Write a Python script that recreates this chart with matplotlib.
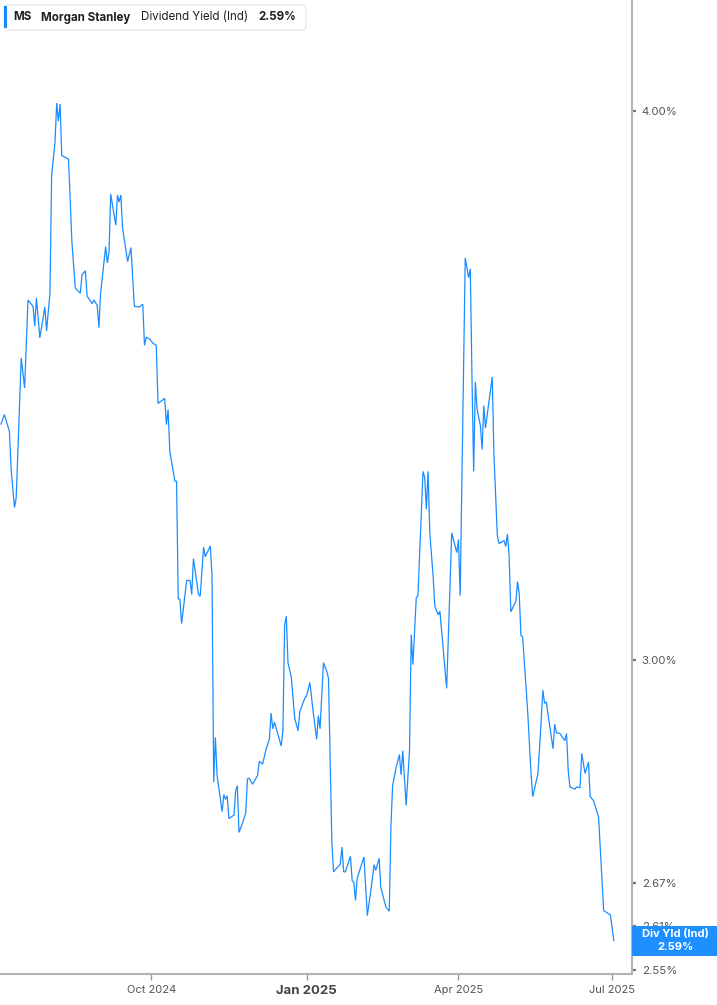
import matplotlib
matplotlib.use('Agg')
import matplotlib.pyplot as plt
import matplotlib.ticker as mticker
from matplotlib.patches import FancyBboxPatch, Rectangle
import pandas as pd

plt.rcParams['font.family'] = ['Inter', 'DejaVu Sans']

# ---------------- data ----------------
dates = [
    "2024-07-04", "2024-07-06", "2024-07-09", "2024-07-10", "2024-07-12", "2024-07-13",
    "2024-07-16", "2024-07-18", "2024-07-20", "2024-07-23", "2024-07-24", "2024-07-25",
    "2024-07-27", "2024-07-30", "2024-07-31", "2024-08-02", "2024-08-03", "2024-08-05",
    "2024-08-06", "2024-08-07", "2024-08-08", "2024-08-09", "2024-08-13", "2024-08-15",
    "2024-08-17", "2024-08-20", "2024-08-21", "2024-08-23", "2024-08-24", "2024-08-27",
    "2024-08-28", "2024-08-30", "2024-08-31", "2024-09-01", "2024-09-04", "2024-09-05",
    "2024-09-06", "2024-09-07", "2024-09-10", "2024-09-11", "2024-09-12", "2024-09-13",
    "2024-09-14", "2024-09-17", "2024-09-19", "2024-09-21", "2024-09-24", "2024-09-26",
    "2024-09-27", "2024-09-28", "2024-09-30", "2024-10-02", "2024-10-04", "2024-10-05",
    "2024-10-09", "2024-10-10", "2024-10-11", "2024-10-12", "2024-10-15", "2024-10-16",
    "2024-10-17", "2024-10-18", "2024-10-19", "2024-10-22", "2024-10-24", "2024-10-25",
    "2024-10-26", "2024-10-29", "2024-10-30", "2024-11-01", "2024-11-02", "2024-11-05",
    "2024-11-06", "2024-11-07", "2024-11-08", "2024-11-09", "2024-11-12", "2024-11-13",
    "2024-11-14", "2024-11-15", "2024-11-16", "2024-11-19", "2024-11-20", "2024-11-21",
    "2024-11-22", "2024-11-24", "2024-11-26", "2024-11-27", "2024-11-28", "2024-11-30",
    "2024-12-03", "2024-12-04", "2024-12-06", "2024-12-08", "2024-12-10", "2024-12-11",
    "2024-12-12", "2024-12-13", "2024-12-17", "2024-12-18", "2024-12-19", "2024-12-20",
    "2024-12-21", "2024-12-23", "2024-12-25", "2024-12-27", "2024-12-28", "2024-12-31",
    "2025-01-01", "2025-01-03", "2025-01-05", "2025-01-07", "2025-01-08", "2025-01-09",
    "2025-01-11", "2025-01-13", "2025-01-14", "2025-01-16", "2025-01-17", "2025-01-21",
    "2025-01-22", "2025-01-23", "2025-01-24", "2025-01-27", "2025-01-28", "2025-01-29",
    "2025-01-30", "2025-01-31", "2025-02-04", "2025-02-06", "2025-02-08", "2025-02-10",
    "2025-02-11", "2025-02-13", "2025-02-14", "2025-02-17", "2025-02-19", "2025-02-20",
    "2025-02-21", "2025-02-23", "2025-02-25", "2025-02-26", "2025-02-27", "2025-03-01",
    "2025-03-03", "2025-03-04", "2025-03-05", "2025-03-07", "2025-03-08", "2025-03-11",
    "2025-03-12", "2025-03-13", "2025-03-14", "2025-03-15", "2025-03-17", "2025-03-18",
    "2025-03-20", "2025-03-21", "2025-03-25", "2025-03-28", "2025-03-31", "2025-04-01",
    "2025-04-02", "2025-04-05", "2025-04-07", "2025-04-08", "2025-04-09", "2025-04-10",
    "2025-04-11", "2025-04-12", "2025-04-14", "2025-04-15", "2025-04-16", "2025-04-17",
    "2025-04-21", "2025-04-22", "2025-04-24", "2025-04-25", "2025-04-28", "2025-04-29",
    "2025-04-30", "2025-05-01", "2025-05-02", "2025-05-05", "2025-05-06", "2025-05-07",
    "2025-05-08", "2025-05-09", "2025-05-12", "2025-05-14", "2025-05-15", "2025-05-18",
    "2025-05-19", "2025-05-21", "2025-05-22", "2025-05-23", "2025-05-27", "2025-05-28",
    "2025-05-29", "2025-05-31", "2025-06-03", "2025-06-04", "2025-06-05", "2025-06-06",
    "2025-06-09", "2025-06-10", "2025-06-12", "2025-06-13", "2025-06-15", "2025-06-17",
    "2025-06-18", "2025-06-20", "2025-06-23", "2025-06-26", "2025-06-28", "2025-06-30",
    "2025-07-02",
]
div_yield = [
    3.395, 3.412, 3.382, 3.316, 3.250, 3.266,
    3.515, 3.460, 3.623, 3.611, 3.574, 3.627,
    3.552, 3.610, 3.565, 3.636, 3.866, 3.936,
    4.017, 3.979, 4.015, 3.908, 3.901, 3.736,
    3.646, 3.636, 3.672, 3.679, 3.631, 3.616,
    3.623, 3.613, 3.571, 3.636, 3.726, 3.694,
    3.716, 3.830, 3.768, 3.828, 3.814, 3.828,
    3.763, 3.697, 3.724, 3.611, 3.610, 3.615,
    3.538, 3.553, 3.550, 3.542, 3.538, 3.432,
    3.441, 3.394, 3.421, 3.347, 3.295, 3.295,
    3.098, 3.097, 3.058, 3.128, 3.128, 3.105,
    3.164, 3.105, 3.102, 3.183, 3.167, 3.185,
    3.136, 2.814, 2.881, 2.824, 2.771, 2.796,
    2.789, 2.794, 2.761, 2.766, 2.801, 2.809,
    2.741, 2.754, 2.769, 2.819, 2.820, 2.811,
    2.824, 2.845, 2.841, 2.863, 2.878, 2.918,
    2.894, 2.904, 2.868, 2.891, 3.055, 3.070,
    2.996, 2.973, 2.910, 2.891, 2.920, 2.941,
    2.944, 2.965, 2.918, 2.878, 2.914, 2.894,
    2.996, 2.982, 2.972, 2.726, 2.685, 2.696,
    2.720, 2.685, 2.685, 2.707, 2.673, 2.670,
    2.645, 2.676, 2.706, 2.624, 2.657, 2.695,
    2.687, 2.704, 2.663, 2.636, 2.630, 2.751,
    2.809, 2.835, 2.855, 2.825, 2.861, 2.780,
    2.861, 3.040, 2.993, 3.100, 3.103, 3.312,
    3.301, 3.247, 3.312, 3.207, 3.134, 3.086,
    3.072, 3.078, 2.956, 3.207, 3.174, 3.196,
    3.103, 3.704, 3.666, 3.683, 3.480, 3.312,
    3.471, 3.422, 3.392, 3.350, 3.428, 3.388,
    3.480, 3.342, 3.203, 3.189, 3.194, 3.184,
    3.205, 3.169, 3.077, 3.094, 3.126, 3.106,
    3.039, 3.037, 2.920, 2.826, 2.793, 2.826,
    2.863, 2.953, 2.933, 2.935, 2.864, 2.901,
    2.888, 2.887, 2.876, 2.887, 2.832, 2.807,
    2.804, 2.807, 2.806, 2.857, 2.827, 2.844,
    2.793, 2.787, 2.763, 2.631, 2.628, 2.625,
    2.590,
]
ytick_values = [4.00, 3.00, 2.67, 2.61, 2.55]
ytick_labels = ["4.00%", "3.00%", "2.67%", "2.61%", "2.55%"]
xtick_dates = ["2024-10-01", "2025-01-01", "2025-04-01", "2025-07-01"]
xtick_labels = ["Oct 2024", "Jan 2025", "Apr 2025", "Jul 2025"]
ticker_symbol = "MS"
company = "Morgan Stanley"
metric = "Dividend Yield (Ind)"
last_label = "2.59%"
badge_title = "Div Yld (Ind)"

# ---------------- figure ----------------
W, H = 717, 1005
fig = plt.figure(figsize=(W / 100, H / 100), dpi=100)
fig.patch.set_facecolor('white')

ax_left, ax_right, ax_bottom = 0, 632, 974
ax = fig.add_axes([ax_left / W, (H - ax_bottom) / H, (ax_right - ax_left) / W, ax_bottom / H])

line_color = '#1a8cff'
x = pd.to_datetime(dates)
ax.plot(x, div_yield, color=line_color, lw=0.9, solid_joinstyle='miter')

ax.set_yscale('log')
ax.set_ylim(2.545, 4.24)
ax.set_xlim(pd.Timestamp('2024-07-03 10:00'), pd.Timestamp('2025-07-12 19:00'))

for s in ['left', 'top']:
    ax.spines[s].set_visible(False)
for s in ['right', 'bottom']:
    ax.spines[s].set_color('#b3b3b3')
    ax.spines[s].set_linewidth(1.5)

ax.yaxis.tick_right()
ax.yaxis.set_major_locator(mticker.FixedLocator(ytick_values))
ax.yaxis.set_major_formatter(mticker.FixedFormatter(ytick_labels))
ax.yaxis.set_minor_locator(mticker.NullLocator())
ax.yaxis.set_minor_formatter(mticker.NullFormatter())
ax.tick_params(axis='y', which='major', length=3, width=1.6, color='#777777',
               labelsize=8.2, labelcolor='#555555', pad=4)

ax.set_xticks(pd.to_datetime(xtick_dates))
ax.set_xticklabels(xtick_labels)
ax.tick_params(axis='x', which='major', length=4, width=1, color='#999999',
               labelsize=8, labelcolor='#555555', pad=4)
for lab in ax.get_xticklabels():
    if lab.get_text().startswith('Jan'):
        lab.set_fontweight('bold')
        lab.set_fontsize(9.5)
        lab.set_color('#444444')

# header box
hdr = FancyBboxPatch((4 / W, (H - 30) / H), 302 / W, 25 / H,
                     boxstyle='round,pad=0,rounding_size=0.004',
                     transform=fig.transFigure, facecolor='white',
                     edgecolor='#e3e3e3', lw=0.8, zorder=10)
fig.add_artist(hdr)
fig.add_artist(Rectangle((4 / W, (H - 28) / H), 2.5 / W, 22 / H, transform=fig.transFigure,
                         facecolor=line_color, edgecolor='none', zorder=11))
ty = (H - 17.5) / H
fig.text(13 / W, ty, ticker_symbol, fontsize=8.3, fontweight='bold', color='#1f1f1f', va='center', zorder=12)
fig.text(41 / W, ty, company, fontsize=8.3, fontweight='bold', color='#1f1f1f', va='center', zorder=12)
fig.text(141 / W, ty, metric, fontsize=8.3, color='#1f1f1f', va='center', zorder=12)
fig.text(258 / W, ty, last_label, fontsize=8.3, fontweight='bold', color='#1f1f1f', va='center', zorder=12)

# last value badge on right axis
fig.canvas.draw()
yd = ax.transData.transform((ax.get_xlim()[0], div_yield[-1]))[1]
bh = 30
fig.add_artist(Rectangle((632 / W, (yd - bh / 2) / H), (W - 632) / W, bh / H,
                         transform=fig.transFigure, facecolor='#1e8fff',
                         edgecolor='none', zorder=20))
fig.text(675 / W, (yd + 6.5) / H, badge_title, fontsize=8, fontweight='bold',
         color='white', ha='center', va='center', zorder=21)
fig.text(675 / W, (yd - 6.5) / H, last_label, fontsize=8, fontweight='bold',
         color='white', ha='center', va='center', zorder=21)

fig.savefig('out.png', dpi=100, facecolor='white')
